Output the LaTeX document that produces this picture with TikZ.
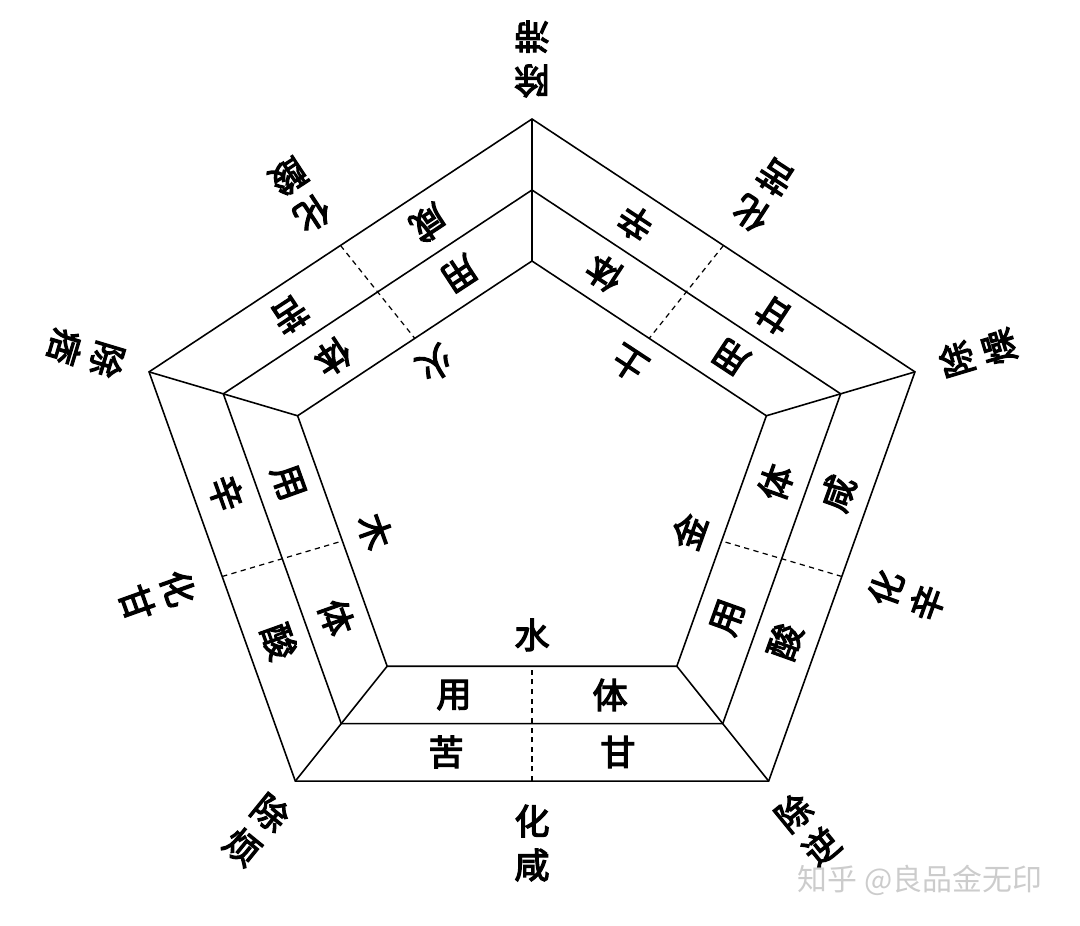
\documentclass[tikz,border=0pt]{standalone}
\usepackage{fontspec}
\newfontfamily\cjk{Noto Sans CJK SC}[FakeBold=3.5]
\newfontfamily\cjkmark{Noto Sans CJK SC}
\usetikzlibrary{calc}

\begin{document}
\begin{tikzpicture}[
  x=0.02cm, y=0.02cm,
  rim/.style={line width=0.9pt},
  split/.style={dashed, dash pattern=on 3pt off 2.5pt, line width=0.7pt},
  zi/.style={font=\cjk\fontsize{20}{25}\selectfont, inner sep=0pt, align=center}
]
\useasboundingbox (-532,485) rectangle (548,-441);
\begin{scope}[xscale=1.1]
% three pentagons
\foreach \k/\a in {1/90, 2/162, 3/234, 4/306, 5/18} {
  \coordinate (o\k) at (\a:366);
  \coordinate (m\k) at (\a:295);
  \coordinate (i\k) at (\a:224);
}
\draw[rim] (o1) -- (o2) -- (o3) -- (o4) -- (o5) -- cycle;
\draw[rim] (m1) -- (m2) -- (m3) -- (m4) -- (m5) -- cycle;
\draw[rim] (i1) -- (i2) -- (i3) -- (i4) -- (i5) -- cycle;
\foreach \k in {1,...,5} \draw[rim] (o\k) -- (i\k);
% dashed splits at the edge midpoints
\foreach \k/\l in {1/2, 2/3, 3/4, 4/5, 5/1} {
  \coordinate (om\k) at ($(o\k)!.5!(o\l)$);
  \coordinate (im\k) at ($(i\k)!.5!(i\l)$);
  \draw[split] (om\k) -- (im\k);
}
% labels on each side
\foreach \n/\r/\wx/\ti/\yo/\hua in {54/146.7/土/辛/甘/苦, 126/213.3/火/苦/咸/酸,
    198/289.7/木/酸/辛/甘, 270/0/水/甘/苦/咸, 342/70.3/金/咸/酸/辛} {
  \node[zi, rotate=\r] (xing-\n) at (\n:150) {\wx};
  \node[zi, rotate=\r] (ti-\n) at ($(\n:210)+({\n+90}:71)$) {体};
  \node[zi, rotate=\r] (yong-\n) at ($(\n:210)+({\n-90}:71)$) {用};
  \node[zi, rotate=\r] (tiwei-\n) at ($(\n:267)+({\n+90}:78)$) {\ti};
  \node[zi, rotate=\r] (yongwei-\n) at ($(\n:267)+({\n-90}:78)$) {\yo};
  \node[zi, rotate=\r] (hua-\n) at (\n:358) {化\\\hua};
}
% labels at the corners
\foreach \a/\r/\w in {90/180/滞, 18/106.7/燥, 306/39.1/逆, 234/320.9/烦, 162/253.3/痞}
  \node[zi, rotate=\r] (chu-\a) at (\a:426) {除\\\w};
\end{scope}
\node[font=\cjkmark\fontsize{17}{20}\selectfont, text=gray!40] (mark) at (388,-395) {知乎 @良品金无印};
\end{tikzpicture}
\end{document}
